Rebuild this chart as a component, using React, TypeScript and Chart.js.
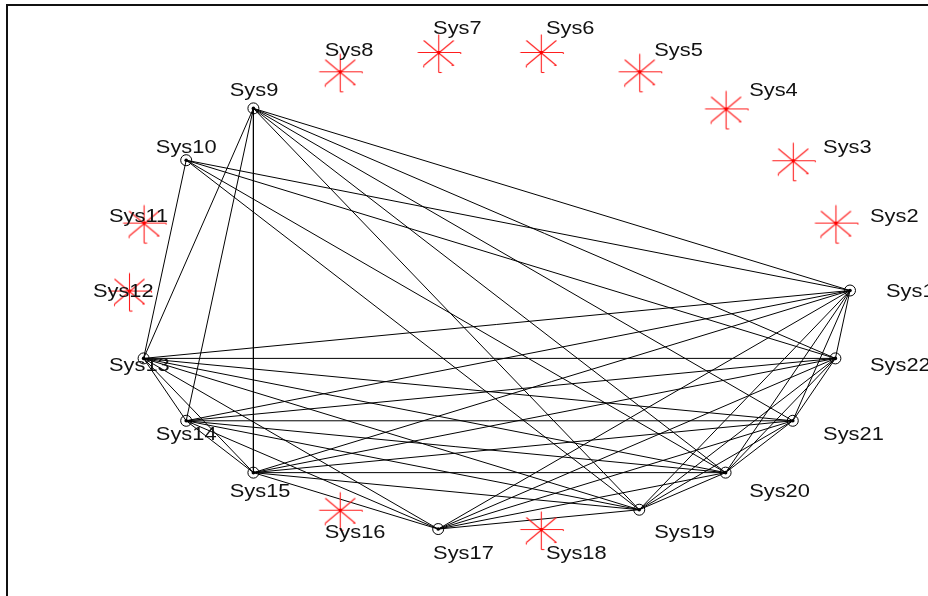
import React, { useEffect, useRef } from "react";
import { Chart, registerables } from "chart.js";

Chart.register(...registerables);

// Node names and their positions in the circular layout (unit-circle coordinates)
const nodeNames = [
  "Sys1", "Sys2", "Sys3", "Sys4", "Sys5", "Sys6", "Sys7", "Sys8", "Sys9", "Sys10", "Sys11",
  "Sys12", "Sys13", "Sys14", "Sys15", "Sys16", "Sys17", "Sys18", "Sys19", "Sys20", "Sys21", "Sys22",
];
const nodeX = [
  1.0, 0.9595, 0.8413, 0.6549, 0.4154, 0.1423, -0.1423, -0.4154, -0.6549, -0.8413, -0.9595,
  -1.0, -0.9595, -0.8413, -0.6549, -0.4154, -0.1423, 0.1423, 0.4154, 0.6549, 0.8413, 0.9595,
];
const nodeY = [
  0.0, 0.2817, 0.5406, 0.7557, 0.9096, 0.9898, 0.9898, 0.9096, 0.7557, 0.5406, 0.2817,
  0.0, -0.2817, -0.5406, -0.7557, -0.9096, -0.9898, -0.9898, -0.9096, -0.7557, -0.5406, -0.2817,
];

// Links between systems (1-based system numbers)
const edgeFrom = [
  1, 1, 1, 1, 1, 1, 1, 1, 1, 1,
  9, 9, 9, 9, 9, 9, 9,
  10, 10, 10, 10,
  13, 13, 13, 13, 13, 13, 13,
  14, 14, 14, 14, 14, 14,
  15, 15, 15, 15, 15,
  17, 17, 17, 17,
  19, 19, 19,
  20, 20,
  21,
];
const edgeTo = [
  9, 10, 13, 14, 15, 17, 19, 20, 21, 22,
  13, 14, 15, 19, 20, 21, 22,
  13, 19, 20, 22,
  14, 15, 17, 19, 20, 21, 22,
  15, 17, 19, 20, 21, 22,
  17, 19, 20, 21, 22,
  19, 20, 21, 22,
  20, 21, 22,
  21, 22,
  22,
];

const LABEL_FACTOR = 1.1;

function makeStar(): HTMLCanvasElement {
  const c = document.createElement("canvas");
  c.width = 50;
  c.height = 44;
  const g = c.getContext("2d")!;
  const cx = 25.5;
  const cy = 22.5;
  g.strokeStyle = "rgb(255,30,30)";
  g.lineWidth = 1.1;
  const seg = (x1: number, y1: number, x2: number, y2: number) => {
    g.beginPath();
    g.moveTo(x1, y1);
    g.lineTo(x2, y2);
    g.stroke();
  };
  seg(cx - 21, cy, cx + 22, cy);
  seg(cx, cy - 18, cx, cy + 20);
  seg(cx - 15, cy - 12, cx + 15, cy + 13);
  seg(cx + 15, cy - 12, cx - 15, cy + 13);
  // small hooks at arm ends
  seg(cx, cy + 20, cx + 3, cy + 20);
  seg(cx + 22, cy, cx + 22, cy + 1.5);
  seg(cx - 15, cy + 13, cx - 15, cy + 15);
  seg(cx + 15, cy + 13, cx + 13, cy + 13);
  g.fillStyle = "rgb(255,0,0)";
  g.fillRect(cx - 1.5, cy - 1.5, 3, 3);
  return c;
}

export default function App() {
  const ref = useRef<HTMLCanvasElement | null>(null);

  useEffect(() => {
    if (!ref.current) return;
    const connected = new Set<number>();
    edgeFrom.forEach((a, i) => {
      connected.add(a - 1);
      connected.add(edgeTo[i] - 1);
    });
    const linked: { x: number; y: number }[] = [];
    const isolated: { x: number; y: number }[] = [];
    nodeNames.forEach((_, i) => {
      const p = { x: nodeX[i], y: nodeY[i] };
      if (connected.has(i)) linked.push(p);
      else isolated.push(p);
    });

    const star = makeStar();

    const edgeSets = edgeFrom.map((a, i) => ({
      type: "scatter" as const,
      data: [
        { x: nodeX[a - 1], y: nodeY[a - 1] },
        { x: nodeX[edgeTo[i] - 1], y: nodeY[edgeTo[i] - 1] },
      ],
      showLine: true,
      borderColor: "#000",
      borderWidth: 1,
      pointRadius: 0,
      pointHoverRadius: 0,
      fill: false,
    }));

    const labelPlugin = {
      id: "labelsAndBox",
      afterDatasetsDraw(chart: any) {
        const ctx = chart.ctx as CanvasRenderingContext2D;
        const xs = chart.scales.x;
        const ys = chart.scales.y;
        ctx.save();
        ctx.fillStyle = "#111";
        ctx.font = '19px "Liberation Sans", Arial, sans-serif';
        ctx.textAlign = "left";
        ctx.textBaseline = "middle";
        nodeNames.forEach((name, i) => {
          const px = xs.getPixelForValue(nodeX[i] * LABEL_FACTOR);
          const py = ys.getPixelForValue(nodeY[i] * LABEL_FACTOR);
          ctx.save();
          ctx.translate(px, py);
          ctx.scale(1.15, 1);
          ctx.fillText(name, 0, 1);
          ctx.restore();
        });
        ctx.restore();
        // outer box (left and top edges visible)
        ctx.save();
        ctx.fillStyle = "#111";
        ctx.fillRect(6, 4, chart.width, 2);
        ctx.fillRect(6, 4, 2, chart.height);
        ctx.restore();
      },
    };

    const chart = new Chart(ref.current, {
      type: "scatter",
      data: {
        datasets: [
          {
            data: linked,
            pointStyle: "circle",
            pointRadius: 5.5,
            pointHoverRadius: 5.5,
            borderColor: "#000",
            backgroundColor: "rgba(0,0,0,0)",
            borderWidth: 1,
          },
          {
            data: linked,
            pointStyle: "circle",
            pointRadius: 1.8,
            pointHoverRadius: 1.8,
            borderWidth: 0,
            backgroundColor: "#000",
          },
          {
            data: isolated,
            pointStyle: star as any,
            pointRadius: 5,
            pointHoverRadius: 5,
            borderWidth: 0,
            backgroundColor: "red",
          },
          ...edgeSets,
        ] as any,
      },
      options: {
        animation: false,
        responsive: false,
        maintainAspectRatio: false,
        devicePixelRatio: 1,
        events: [],
        layout: { padding: 0, autoPadding: false },
        plugins: { legend: { display: false }, tooltip: { enabled: false } },
        scales: {
          x: { type: "linear", min: -1.3578, max: 1.2164, display: false },
          y: { type: "linear", min: -1.2676, max: 1.2054, display: false },
        },
      },
      plugins: [labelPlugin],
    });
    return () => chart.destroy();
  }, []);

  return (
    <div style={{ position: "absolute", left: 0, top: 0, width: 928, height: 596, background: "#fff" }}>
      <canvas ref={ref} width={928} height={596} style={{ display: "block" }} />
    </div>
  );
}
